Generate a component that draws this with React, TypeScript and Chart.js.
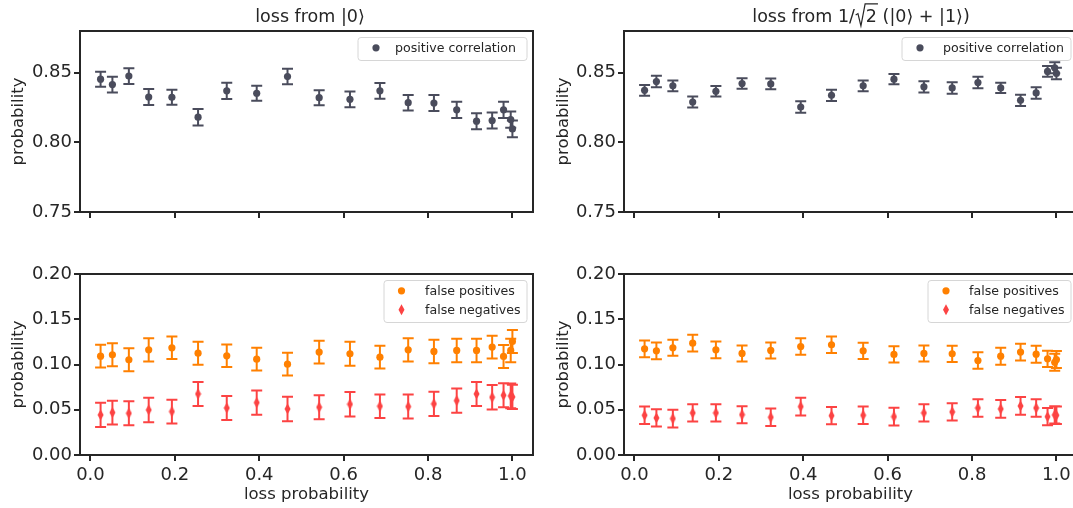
import React, { useEffect, useRef } from 'react';
import { Chart, registerables } from 'chart.js';

Chart.register(...registerables);

// ---------- data ----------
const lossProbability = [0.024, 0.052, 0.091, 0.138, 0.193, 0.255, 0.323, 0.394, 0.467, 0.542, 0.615, 0.686, 0.753, 0.814, 0.868, 0.915, 0.952, 0.979, 0.996, 1.0];

const xTickValues = [0, 0.2, 0.4, 0.6, 0.8, 1.0];
const topTickValues = [0.75, 0.8, 0.85];
const bottomTickValues = [0, 0.05, 0.1, 0.15, 0.2];

// loss from |0>
const zeroPosCorr = [0.8454, 0.8415, 0.8476, 0.8326, 0.8324, 0.8181, 0.8370, 0.8353, 0.8473, 0.8321, 0.8309, 0.8370, 0.8285, 0.8283, 0.8234, 0.8152, 0.8157, 0.8234, 0.8164, 0.8097];
const zeroPosCorrErr = [0.0054, 0.0057, 0.0056, 0.0057, 0.0054, 0.0059, 0.0059, 0.0054, 0.0056, 0.0054, 0.0056, 0.0056, 0.0056, 0.0057, 0.0058, 0.0058, 0.0058, 0.0058, 0.0058, 0.0060];
const zeroFalsePos = [0.1092, 0.1107, 0.1052, 0.1162, 0.1185, 0.1125, 0.1096, 0.1059, 0.1004, 0.1137, 0.1118, 0.1081, 0.1162, 0.1144, 0.1155, 0.1155, 0.1192, 0.1089, 0.1155, 0.1255];
const zeroFalsePosErr = [0.0125, 0.0127, 0.0127, 0.0129, 0.0124, 0.0127, 0.0125, 0.0125, 0.0125, 0.0125, 0.0133, 0.0125, 0.0129, 0.0129, 0.0129, 0.0129, 0.0125, 0.0127, 0.0129, 0.0127];
const zeroFalseNeg = [0.0443, 0.0469, 0.0461, 0.0498, 0.0480, 0.0675, 0.0520, 0.0579, 0.0509, 0.0528, 0.0561, 0.0539, 0.0535, 0.0565, 0.0601, 0.0675, 0.0638, 0.0660, 0.0653, 0.0642];
const zeroFalseNegErr = [0.0133, 0.0131, 0.0133, 0.0135, 0.0131, 0.0133, 0.0133, 0.0133, 0.0135, 0.0133, 0.0135, 0.0129, 0.0133, 0.0133, 0.0135, 0.0133, 0.0135, 0.0133, 0.0137, 0.0133];

// loss from 1/sqrt2 (|0> + |1>)
const plusPosCorr = [0.8374, 0.8437, 0.8406, 0.8290, 0.8367, 0.8423, 0.8420, 0.8254, 0.8338, 0.8406, 0.8454, 0.8399, 0.8391, 0.8430, 0.8391, 0.8302, 0.8355, 0.8510, 0.8536, 0.8495];
const plusPosCorrErr = [0.0039, 0.0041, 0.0038, 0.0039, 0.0038, 0.0037, 0.0039, 0.0041, 0.0040, 0.0039, 0.0037, 0.0040, 0.0041, 0.0041, 0.0037, 0.0040, 0.0041, 0.0039, 0.0039, 0.0041];
const plusFalsePos = [0.1173, 0.1151, 0.1185, 0.1236, 0.1162, 0.1122, 0.1155, 0.1199, 0.1218, 0.1151, 0.1111, 0.1122, 0.1118, 0.1044, 0.1092, 0.1137, 0.1114, 0.1063, 0.1025, 0.1055];
const plusFalsePosErr = [0.0092, 0.0092, 0.0089, 0.0092, 0.0092, 0.0089, 0.0089, 0.0090, 0.0092, 0.0089, 0.0090, 0.0089, 0.0089, 0.0090, 0.0094, 0.0092, 0.0094, 0.0090, 0.0094, 0.0094];
const plusFalseNeg = [0.0439, 0.0410, 0.0402, 0.0465, 0.0465, 0.0446, 0.0417, 0.0535, 0.0435, 0.0439, 0.0424, 0.0465, 0.0476, 0.0520, 0.0509, 0.0542, 0.0520, 0.0424, 0.0443, 0.0439];
const plusFalseNegErr = [0.0096, 0.0096, 0.0098, 0.0096, 0.0096, 0.0094, 0.0096, 0.0098, 0.0096, 0.0096, 0.0098, 0.0096, 0.0096, 0.0096, 0.0098, 0.0098, 0.0096, 0.0096, 0.0096, 0.0096];

const seriesLabels = ['positive correlation', 'false positives', 'false negatives'];
const axisLabels = { x: 'loss probability', y: 'probability' };

// ---------- styles ----------
const FONT = '"DejaVu Sans", "Noto Sans", sans-serif';
const INK = '#262626';
const DARK = '#4a4c5c';
const ORANGE = '#ff8000';
const RED = '#fc4343';
const TICK_FONT = 18;
const LABEL_FONT = 16.5;
const TITLE_FONT = 17.5;
const LEGEND_FONT = 12.6;
const X_MIN = -0.0248;
const X_MAX = 1.0488;

Chart.defaults.font.family = FONT;
Chart.defaults.color = INK;

type Shape = 'circle' | 'diamond';
type Series = { label: string; y: number[]; err: number[]; color: string; shape: Shape };
type Panel = {
  left: number; top: number; width: number; height: number;
  area: { left: number; top: number; right: number; bottom: number };
  yMin: number; yMax: number; yTicks: number[]; xLabels: boolean;
  title: 'zero' | 'plus' | null; titleCenter: number;
  series: Series[];
  legend: { boxW: number; markerX: number; textX: number };
};

const panels: Panel[] = [
  {
    left: 0, top: 0, width: 620, height: 240,
    area: { left: 80, top: 31, right: 533, bottom: 212 },
    yMin: 0.75, yMax: 0.88, yTicks: topTickValues, xLabels: false,
    title: 'zero', titleCenter: 310,
    series: [{ label: seriesLabels[0], y: zeroPosCorr, err: zeroPosCorrErr, color: DARK, shape: 'circle' }],
    legend: { boxW: 169, markerX: 18, textX: 37 },
  },
  {
    left: 545, top: 0, width: 632, height: 240,
    area: { left: 624, top: 31, right: 1077, bottom: 212 },
    yMin: 0.75, yMax: 0.88, yTicks: topTickValues, xLabels: false,
    title: 'plus', titleCenter: 861,
    series: [{ label: seriesLabels[0], y: plusPosCorr, err: plusPosCorrErr, color: DARK, shape: 'circle' }],
    legend: { boxW: 169, markerX: 18, textX: 41 },
  },
  {
    left: 0, top: 240, width: 620, height: 268,
    area: { left: 80, top: 274, right: 533, bottom: 455 },
    yMin: 0, yMax: 0.2, yTicks: bottomTickValues, xLabels: true,
    title: null, titleCenter: 0,
    series: [
      { label: seriesLabels[1], y: zeroFalsePos, err: zeroFalsePosErr, color: ORANGE, shape: 'circle' },
      { label: seriesLabels[2], y: zeroFalseNeg, err: zeroFalseNegErr, color: RED, shape: 'diamond' },
    ],
    legend: { boxW: 143, markerX: 17.5, textX: 41 },
  },
  {
    left: 545, top: 240, width: 632, height: 268,
    area: { left: 624, top: 274, right: 1077, bottom: 455 },
    yMin: 0, yMax: 0.2, yTicks: bottomTickValues, xLabels: true,
    title: null, titleCenter: 0,
    series: [
      { label: seriesLabels[1], y: plusFalsePos, err: plusFalsePosErr, color: ORANGE, shape: 'circle' },
      { label: seriesLabels[2], y: plusFalseNeg, err: plusFalseNegErr, color: RED, shape: 'diamond' },
    ],
    legend: { boxW: 143, markerX: 18, textX: 41 },
  },
];

function diamondImage(color: string): HTMLCanvasElement {
  const c = document.createElement('canvas');
  c.width = 7;
  c.height = 12;
  const g = c.getContext('2d')!;
  g.fillStyle = color;
  g.beginPath();
  g.moveTo(3.5, 0.5);
  g.lineTo(6.5, 6);
  g.lineTo(3.5, 11.5);
  g.lineTo(0.5, 6);
  g.closePath();
  g.fill();
  return c;
}

function drawMarker(ctx: CanvasRenderingContext2D, shape: Shape, x: number, y: number, color: string) {
  ctx.fillStyle = color;
  ctx.beginPath();
  if (shape === 'circle') {
    ctx.arc(x, y, 3.6, 0, Math.PI * 2);
  } else {
    ctx.moveTo(x, y - 5.5);
    ctx.lineTo(x + 3, y);
    ctx.lineTo(x, y + 5.5);
    ctx.lineTo(x - 3, y);
    ctx.closePath();
  }
  ctx.fill();
}

function drawZeroTitle(ctx: CanvasRenderingContext2D, cx: number, base: number) {
  ctx.font = `${TITLE_FONT}px ${FONT}`;
  ctx.fillStyle = INK;
  ctx.textAlign = 'center';
  ctx.textBaseline = 'alphabetic';
  ctx.fillText('loss from |0⟩', cx, base);
}

function drawPlusTitle(ctx: CanvasRenderingContext2D, cx: number, base: number) {
  const fs = TITLE_FONT;
  ctx.font = `${fs}px ${FONT}`;
  ctx.fillStyle = INK;
  ctx.strokeStyle = INK;
  ctx.textAlign = 'left';
  ctx.textBaseline = 'alphabetic';
  const a = 'loss from 1/';
  const b = '2';
  const c = '(|0⟩ + |1⟩)';
  const wa = ctx.measureText(a).width;
  const wb = ctx.measureText(b).width;
  const wc = ctx.measureText(c).width;
  const rad = 0.62 * fs;
  const gap = 0.32 * fs;
  const total = wa + rad + wb + gap + wc;
  let x = cx - total / 2;
  ctx.fillText(a, x, base);
  x += wa;
  ctx.lineWidth = 1.2;
  ctx.beginPath();
  ctx.moveTo(x + 0.04 * fs, base - 0.4 * fs);
  ctx.lineTo(x + 0.17 * fs, base - 0.48 * fs);
  ctx.lineTo(x + 0.34 * fs, base + 0.22 * fs);
  ctx.lineTo(x + 0.58 * fs, base - 1.04 * fs);
  ctx.lineTo(x + rad + wb + 1, base - 1.04 * fs);
  ctx.stroke();
  x += rad;
  ctx.fillText(b, x, base);
  x += wb + gap;
  ctx.fillText(c, x, base);
}

function makePanelPlugin(p: Panel) {
  return {
    id: 'panelDecor',
    beforeDatasetsDraw(chart: any) {
      const ctx: CanvasRenderingContext2D = chart.ctx;
      const xs = chart.scales.x;
      const ys = chart.scales.y;
      ctx.save();
      ctx.lineWidth = 2;
      p.series.forEach((s) => {
        ctx.strokeStyle = s.color;
        ctx.beginPath();
        lossProbability.forEach((xv, i) => {
          const px = xs.getPixelForValue(xv);
          const y1 = ys.getPixelForValue(s.y[i] - s.err[i]);
          const y2 = ys.getPixelForValue(s.y[i] + s.err[i]);
          ctx.moveTo(px, y1);
          ctx.lineTo(px, y2);
          ctx.moveTo(px - 5.5, y1);
          ctx.lineTo(px + 5.5, y1);
          ctx.moveTo(px - 5.5, y2);
          ctx.lineTo(px + 5.5, y2);
        });
        ctx.stroke();
      });
      ctx.restore();
    },
    afterDraw(chart: any) {
      const ctx: CanvasRenderingContext2D = chart.ctx;
      const a = chart.chartArea;
      ctx.save();
      // frame
      ctx.strokeStyle = INK;
      ctx.lineWidth = 2;
      ctx.strokeRect(a.left, a.top, a.right - a.left, a.bottom - a.top);
      // legend
      const lg = p.legend;
      const rows = p.series.length;
      const boxH = rows * 19 + 4;
      const bx = a.right - 6 - lg.boxW;
      const by = a.top + 6.5;
      const r = 3;
      ctx.beginPath();
      ctx.moveTo(bx + r, by);
      ctx.lineTo(bx + lg.boxW - r, by);
      ctx.arcTo(bx + lg.boxW, by, bx + lg.boxW, by + r, r);
      ctx.lineTo(bx + lg.boxW, by + boxH - r);
      ctx.arcTo(bx + lg.boxW, by + boxH, bx + lg.boxW - r, by + boxH, r);
      ctx.lineTo(bx + r, by + boxH);
      ctx.arcTo(bx, by + boxH, bx, by + boxH - r, r);
      ctx.lineTo(bx, by + r);
      ctx.arcTo(bx, by, bx + r, by, r);
      ctx.closePath();
      ctx.fillStyle = 'rgba(255,255,255,0.8)';
      ctx.fill();
      ctx.strokeStyle = '#d6d6d6';
      ctx.lineWidth = 1;
      ctx.stroke();
      ctx.font = `${LEGEND_FONT}px ${FONT}`;
      ctx.textAlign = 'left';
      ctx.textBaseline = 'middle';
      p.series.forEach((s, i) => {
        const ry = by + 10.3 + i * 19;
        drawMarker(ctx, s.shape, bx + lg.markerX, ry, s.color);
        ctx.fillStyle = INK;
        ctx.fillText(s.label, bx + lg.textX, ry + 0.5);
      });
      // title
      if (p.title === 'zero') drawZeroTitle(ctx, p.titleCenter - p.left, 22);
      if (p.title === 'plus') drawPlusTitle(ctx, p.titleCenter - p.left, 22);
      ctx.restore();
    },
  };
}

function buildConfig(p: Panel): any {
  const areaTop = p.area.top - p.top;
  const areaBottom = p.area.bottom - p.top;
  const areaRight = p.area.right - p.left;
  const yAxisW = p.area.left - p.left;
  const xAxisH = p.height - areaBottom;
  const padRight = p.width - areaRight;
  const gridOpts = {
    display: true,
    drawOnChartArea: false,
    drawTicks: true,
    tickLength: 6,
    tickWidth: 2,
    tickColor: INK,
    color: INK,
    lineWidth: 2,
  };
  return {
    type: 'scatter',
    data: {
      datasets: p.series.map((s) => ({
        label: s.label,
        data: lossProbability.map((x, i) => ({ x, y: s.y[i] })),
        pointStyle: s.shape === 'circle' ? 'circle' : diamondImage(s.color),
        pointRadius: 3.6,
        pointBackgroundColor: s.color,
        pointBorderColor: s.color,
        pointBorderWidth: 0,
        showLine: false,
      })),
    },
    options: {
      animation: false,
      responsive: false,
      devicePixelRatio: 1,
      events: [],
      layout: { padding: { top: areaTop, right: padRight, left: 0, bottom: 0 } },
      plugins: {
        legend: { display: false },
        tooltip: { enabled: false },
        title: { display: false },
      },
      scales: {
        x: {
          type: 'linear',
          min: X_MIN,
          max: X_MAX,
          afterBuildTicks: (scale: any) => {
            scale.ticks = xTickValues.map((v) => ({ value: v }));
          },
          afterFit: (scale: any) => {
            scale.height = xAxisH;
          },
          grid: gridOpts,
          border: { display: false },
          ticks: {
            display: p.xLabels,
            autoSkip: false,
            maxRotation: 0,
            minRotation: 0,
            padding: 4,
            color: INK,
            font: { size: TICK_FONT, family: FONT },
            callback: (v: any) => Number(v).toFixed(1),
          },
          title: {
            display: p.xLabels,
            text: axisLabels.x,
            color: INK,
            font: { size: LABEL_FONT, family: FONT },
            padding: { top: 0, bottom: 3 },
          },
        },
        y: {
          type: 'linear',
          min: p.yMin,
          max: p.yMax,
          afterBuildTicks: (scale: any) => {
            scale.ticks = p.yTicks.map((v) => ({ value: v }));
          },
          afterFit: (scale: any) => {
            scale.width = yAxisW;
          },
          grid: gridOpts,
          border: { display: false },
          ticks: {
            autoSkip: false,
            padding: 2,
            color: INK,
            font: { size: TICK_FONT, family: FONT },
            callback: (v: any) => Number(v).toFixed(2),
          },
          title: {
            display: true,
            text: axisLabels.y,
            color: INK,
            font: { size: LABEL_FONT, family: FONT },
            padding: { top: 9, bottom: 0 },
          },
        },
      },
    },
    plugins: [makePanelPlugin(p)],
  };
}

export default function App() {
  const canvasRefs = useRef<(HTMLCanvasElement | null)[]>([]);

  useEffect(() => {
    const charts = panels.map((p, i) => new Chart(canvasRefs.current[i] as HTMLCanvasElement, buildConfig(p)));
    return () => {
      charts.forEach((c) => c.destroy());
    };
  }, []);

  return (
    <div
      style={{
        position: 'fixed',
        left: 0,
        top: 0,
        width: 1073,
        height: 508,
        overflow: 'hidden',
        background: '#ffffff',
      }}
    >
      {panels.map((p, i) => (
        <canvas
          key={i}
          ref={(el) => {
            canvasRefs.current[i] = el;
          }}
          width={p.width}
          height={p.height}
          style={{ position: 'absolute', left: p.left, top: p.top, width: p.width, height: p.height }}
        />
      ))}
    </div>
  );
}
